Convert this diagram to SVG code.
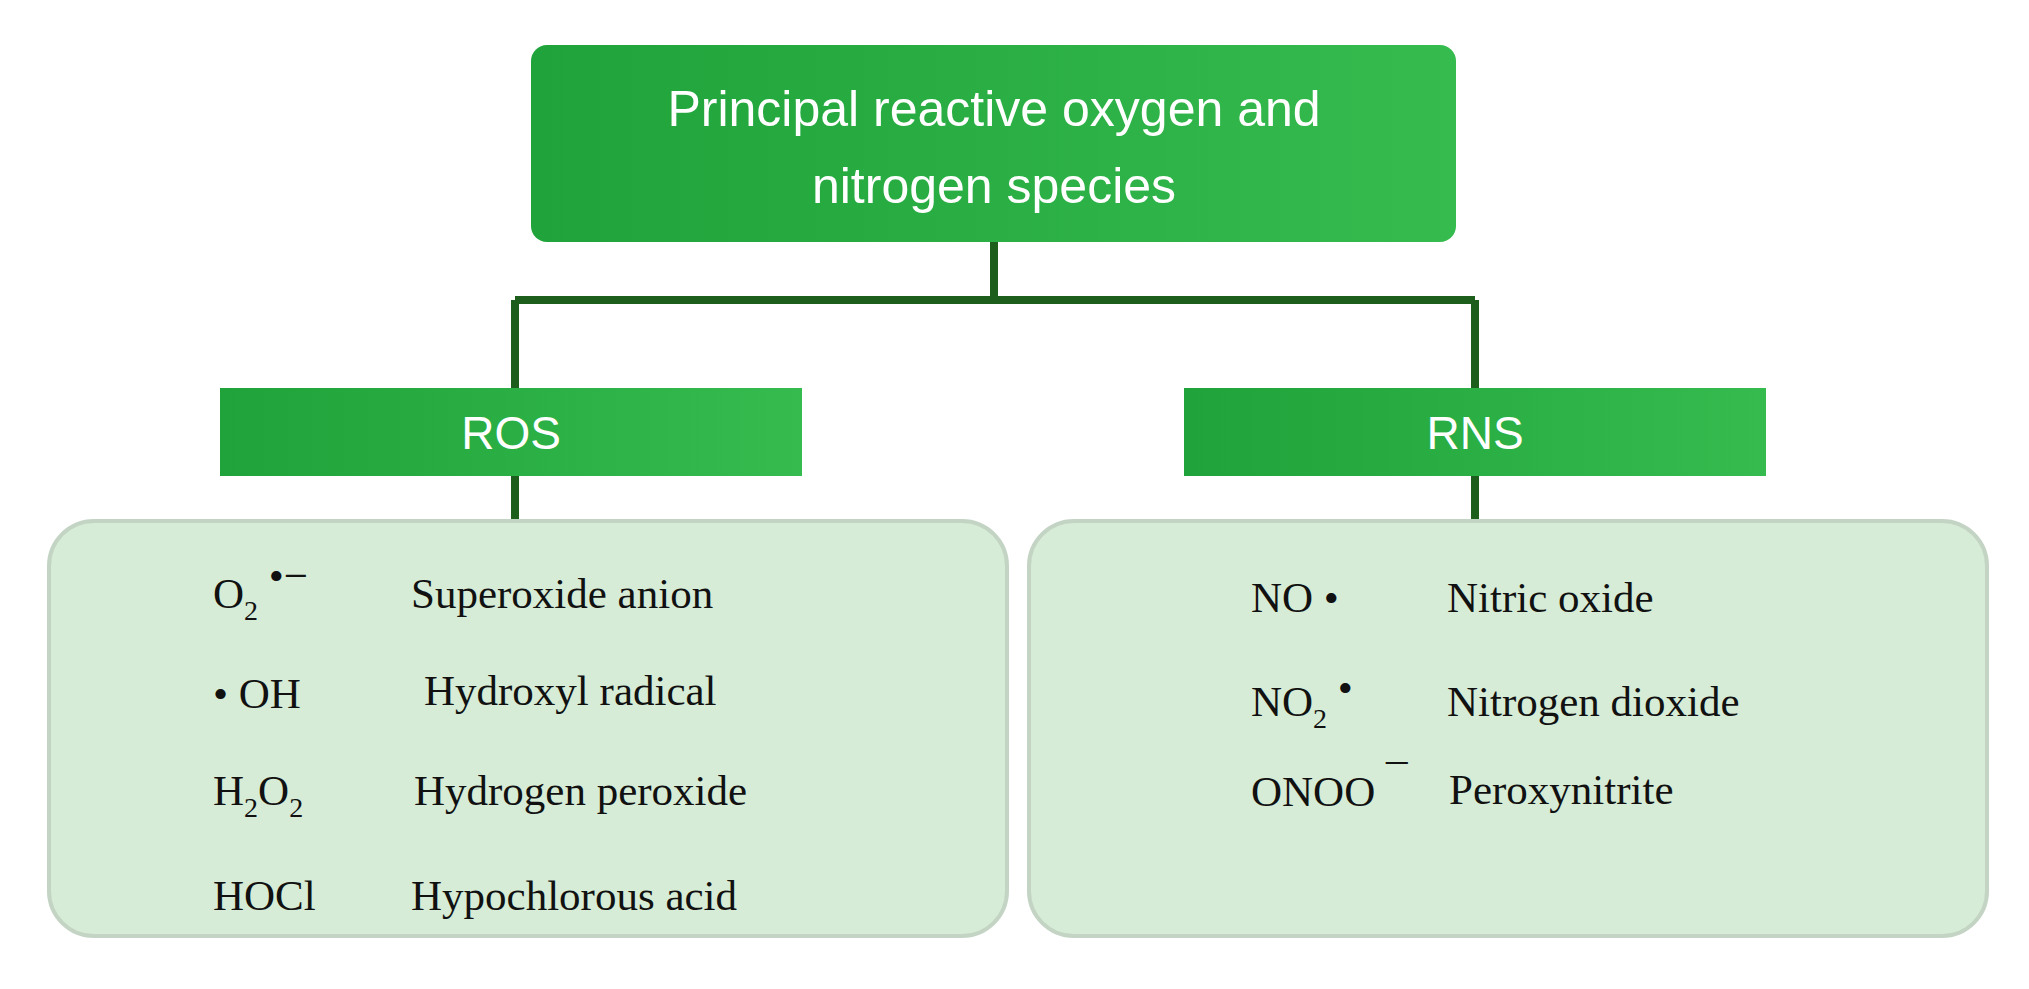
<svg xmlns="http://www.w3.org/2000/svg" width="2029" height="989" viewBox="0 0 2029 989">
<style>
.head{fill:url(#g);}
.title{font-family:"Liberation Sans",Arial,sans-serif;fill:#fff;text-anchor:middle;font-size:50px;}
.sub{font-family:"Liberation Sans",Arial,sans-serif;fill:#fff;text-anchor:middle;font-size:46px;}
.panel{fill:#d6ecd6;stroke:#c4d4c4;stroke-width:4;}
.t{font-family:"Liberation Serif","Times New Roman",serif;fill:#111;font-size:43px;}
.s{font-size:28px;}
.con{stroke:#1d5e1d;stroke-width:8;fill:none;}
</style>
<defs>
<linearGradient id="g" x1="0" y1="0" x2="1" y2="0">
<stop offset="0" stop-color="#1fa33a"/><stop offset="1" stop-color="#36bb4f"/>
</linearGradient>
</defs>
<rect width="2029" height="989" fill="#fff"/>
<g id="connectors">
<path class="con" d="M994 242V304M515 300H1475M515 300V388M1475 300V388M515 476V523M1475 476V523"/>
</g>
<g id="top"><rect class="head" x="531" y="45" width="925" height="197" rx="16"/>
<text class="title" x="994" y="126">Principal reactive oxygen and</text>
<text class="title" x="994" y="203">nitrogen species</text></g>
<g id="ros"><rect class="head" x="220" y="388" width="582" height="88"/>
<text class="sub" x="511" y="449">ROS</text></g>
<g id="rns"><rect class="head" x="1184" y="388" width="582" height="88"/>
<text class="sub" x="1475" y="449">RNS</text></g>
<g id="ros-list"><rect class="panel" x="49" y="521" width="958" height="415" rx="45"/>
<text class="t" x="213" y="608">O<tspan class="s" dy="12">2</tspan><tspan dy="-30"> •−</tspan></text>
<text class="t" x="411" y="608">Superoxide anion</text>
<text class="t" x="213" y="708">• OH</text>
<text class="t" x="424" y="705">Hydroxyl radical</text>
<text class="t" x="213" y="805">H<tspan class="s" dy="12">2</tspan><tspan dy="-12">O</tspan><tspan class="s" dy="12">2</tspan></text>
<text class="t" x="414" y="805">Hydrogen peroxide</text>
<text class="t" x="213" y="910">HOCl</text>
<text class="t" x="411" y="910">Hypochlorous acid</text></g>
<g id="rns-list"><rect class="panel" x="1029" y="521" width="958" height="415" rx="45"/>
<text class="t" x="1251" y="612">NO  •</text>
<text class="t" x="1447" y="612">Nitric oxide</text>
<text class="t" x="1251" y="716">NO<tspan class="s" dy="12">2</tspan><tspan dy="-26"> •</tspan></text>
<text class="t" x="1447" y="716">Nitrogen dioxide</text>
<text class="t" x="1251" y="806">ONOO<tspan dy="-12"> ¯</tspan></text>
<text class="t" x="1449" y="804">Peroxynitrite</text></g>
</svg>
